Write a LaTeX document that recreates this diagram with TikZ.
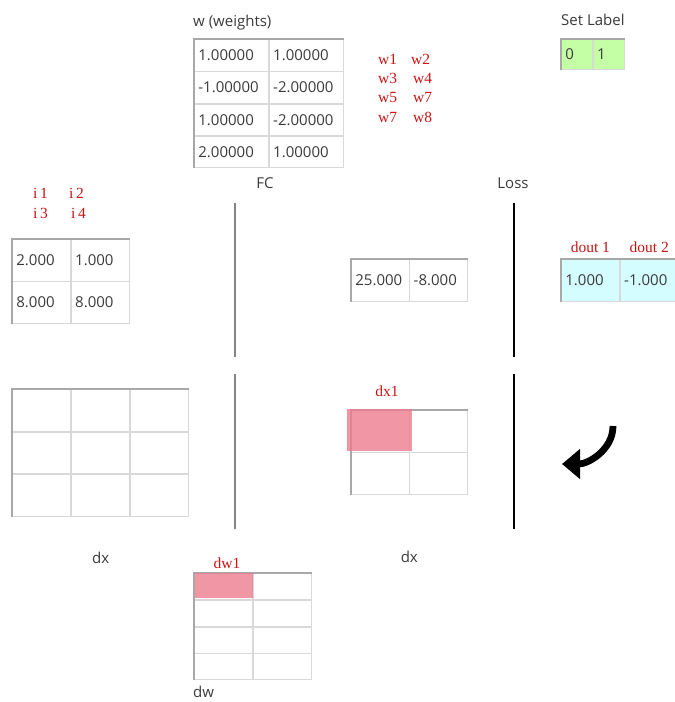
\documentclass[tikz,border=0pt]{standalone}
\usepackage{fontspec}
\setmainfont{Open Sans}
\newfontfamily\redserif{Liberation Serif}
\usetikzlibrary{positioning,arrows.meta,matrix}
\definecolor{txtgray}{HTML}{3A3A3A}
\definecolor{linegray}{HTML}{D8D8D8}
\definecolor{rimgray}{HTML}{A8A8A8}
\definecolor{sepgray}{HTML}{858585}
\definecolor{lblred}{HTML}{C81414}
\definecolor{setgreen}{HTML}{C4FFA6}
\definecolor{doutcyan}{HTML}{D4FDFF}
\definecolor{hlpink}{HTML}{EC7C8E}
\tikzset{
  cell/.style 2 args ={draw=linegray, line width=0.8pt, text width=#1, minimum height=#2,
                       inner xsep=4pt, inner ysep=0pt, outer sep=0pt, anchor=center, align=left,
                       text height=10.5pt, text depth=0pt, text=txtgray, font=\fontsize{15}{18}\selectfont},
  tbl/.style      ={matrix of nodes, nodes in empty cells, inner sep=0pt, outer sep=0pt,
                    column sep=0pt, row sep=0pt, anchor=north west},
  rim/.style      ={draw=rimgray, line width=1.6pt},
  lbl/.style      ={text=txtgray, inner sep=0pt, font=\fontsize{15}{18}\selectfont},
  tag/.style      ={text=lblred, inner sep=0pt, align=left, font=\redserif\fontsize{15.5}{19.3}\selectfont},
  sepline/.style  ={draw=sepgray, line width=2.4pt},
  lossline/.style ={draw=black, line width=2pt},
  hl/.style       ={fill=hlpink, fill opacity=0.8, inner sep=0pt, outer sep=0pt, anchor=north west},
  backarrow/.style={-{Triangle[length=18pt,width=29pt]}, line width=6.8pt}
}

\begin{document}
\begin{tikzpicture}[x=1pt, y=-1pt]
  \useasboundingbox (0,0) rectangle (675,702);

  % weights
  \node[lbl, anchor=base west](wtitle) at (193,26.5){w (weights)};
  \matrix[tbl, nodes={cell={66pt}{31.5pt}}](W) at (194,39){
    1.00000  & 1.00000 \\
    -1.00000 & -2.00000 \\
    1.00000  & -2.00000 \\
    2.00000  & 1.00000 \\
  };
  \draw[rim](W.south west) -- (W.north west) -- (W.north east);
  \node[tag, anchor=west](wtags) at (378,88){\makebox[33pt][l]{w1}w2\\\makebox[35pt][l]{w3}w4\\
    \makebox[35pt][l]{w5}w7\\\makebox[35pt][l]{w7}w8};

  % set label
  \matrix[tbl, nodes={cell={23pt}{30pt}, fill=setgreen}](L) at (561,39){ 0 & 1 \\ };
  \draw[rim](L.south west) -- (L.north west) -- (L.north east);
  \node[lbl, above=13pt of L.north west, anchor=south west](ltitle){Set Label};

  \node[lbl](fc) at (265,183){FC};
  \node[lbl](loss) at (513,183){Loss};

  % separators
  \coordinate (fcA) at (235,203);  \coordinate (fcB) at (235,357);
  \coordinate (fcC) at (235,374);  \coordinate (fcD) at (235,529);
  \coordinate (lsA) at (514,203);  \coordinate (lsB) at (514,357);
  \coordinate (lsC) at (514,374);  \coordinate (lsD) at (514,529);
  \draw[sepline](fcA) -- (fcB);  \draw[sepline](fcC) -- (fcD);
  \draw[lossline](lsA) -- (lsB); \draw[lossline](lsC) -- (lsD);

  % inputs
  \node[tag, anchor=west](itags) at (33,203.5){\makebox[36pt][l]{i\,1}i\,2\\\makebox[38pt][l]{i\,3}i\,4};
  \matrix[tbl, nodes={cell={50pt}{41.5pt}}](X) at (12,239){
    2.000 & 1.000 \\
    8.000 & 8.000 \\
  };
  \draw[rim](X.south west) -- (X.north west) -- (X.north east);

  % fc output
  \matrix[tbl, nodes={cell={49.5pt}{42pt}}](Y) at (351,259){ 25.000 & -8.000 \\ };
  \draw[rim](Y.south west) -- (Y.north west) -- (Y.north east);

  % dout
  \matrix[tbl, nodes={cell={50pt}{42pt}, fill=doutcyan}](D) at (561,259){ 1.000 & -1.000 \\ };
  \draw[rim](D.south west) -- (D.north west) -- (D.north east);
  \node[tag, above=7pt of D-1-1](dout1){dout 1};
  \node[tag, above=7pt of D-1-2](dout2){dout 2};

  % dx (inputs)
  \matrix[tbl, nodes={cell={50.3pt}{41.7pt}}](DX) at (12,389){
    & & \\
    & & \\
    & & \\
  };
  \draw[rim](DX.south west) -- (DX.north west) -- (DX.north east);
  \node[lbl, below=35pt of DX.south](dxlbl){dx};

  % dx (fc)
  \matrix[tbl, nodes={cell={49.5pt}{41.5pt}}](DX1) at (351,410){
    & \\
    & \\
  };
  \draw[rim](DX1.south west) -- (DX1.north west) -- (DX1.north east);
  \node[hl, minimum width=64.5pt, minimum height=42pt](dxhl) at (347,409){};
  \node[tag, anchor=base](dxtag) at (387,396){dx1};
  \node[lbl, below=56pt of DX1.south](dx1lbl){dx};

  % dw
  \matrix[tbl, nodes={cell={50pt}{26pt}}](DW) at (194,573){
    & \\
    & \\
    & \\
    & \\
  };
  \draw[rim](DW.south west) -- (DW.north west) -- (DW.north east);
  \node[hl, minimum width=58pt, minimum height=25pt](dwhl) at (195,573){};
  \node[tag, anchor=base](dwtag) at (227,568){dw1};
  \node[lbl, anchor=base west](dwlbl) at (193,697){dw};

  % backward arrow
  \coordinate (arrtop) at (613,426);
  \coordinate (arrtip) at (562,464);
  \draw[backarrow](arrtop) .. controls +(0,24) and +(26,0) .. (arrtip);
\end{tikzpicture}
\end{document}
